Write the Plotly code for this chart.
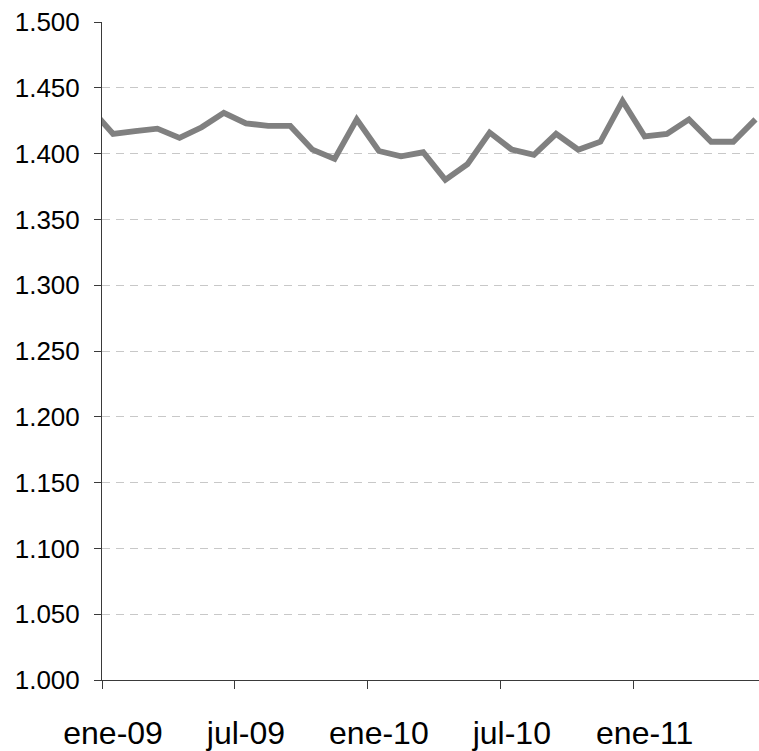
import plotly.graph_objects as go

# Monthly series, dic-08 .. jun-11 (dic-08 sits just left of the visible range)
months = ["dic-08",
          "ene-09", "feb-09", "mar-09", "abr-09", "may-09", "jun-09",
          "jul-09", "ago-09", "sep-09", "oct-09", "nov-09", "dic-09",
          "ene-10", "feb-10", "mar-10", "abr-10", "may-10", "jun-10",
          "jul-10", "ago-10", "sep-10", "oct-10", "nov-10", "dic-10",
          "ene-11", "feb-11", "mar-11", "abr-11", "may-11", "jun-11"]
values = [1.434,
          1.415, 1.417, 1.419, 1.412, 1.420, 1.431,
          1.423, 1.421, 1.421, 1.403, 1.396, 1.426,
          1.402, 1.398, 1.401, 1.380, 1.392, 1.416,
          1.403, 1.399, 1.415, 1.403, 1.409, 1.440,
          1.413, 1.415, 1.426, 1.409, 1.409, 1.426]

# Labelled months (one every six), and the y-axis ticks
tick_labels = ["ene-09", "jul-09", "ene-10", "jul-10", "ene-11"]
y_ticks = [1.000, 1.050, 1.100, 1.150, 1.200, 1.250,
           1.300, 1.350, 1.400, 1.450, 1.500]

# Month slot i spans [i, i+1) with ene-09 as slot 0; points sit mid-slot
x_pos = [i - 1 + 0.5 for i in range(len(months))]
label_pos = [months.index(m) - 1 + 0.5 for m in tick_labels]
boundary_pos = [months.index(m) - 1 for m in tick_labels]

axis_col = "#3a3a3a"

fig = go.Figure(go.Scatter(
    x=x_pos, y=values, mode="lines",
    line=dict(color="#808080", width=5.8),
    hoverinfo="skip",
))

fig.update_layout(
    width=759, height=751,
    margin=dict(l=102, r=0, t=22, b=66),
    paper_bgcolor="white", plot_bgcolor="white",
    showlegend=False,
    font=dict(family="Liberation Sans, Arial, sans-serif", color="black"),
)

fig.update_xaxes(
    range=[0, 29.66],
    tickmode="array", tickvals=label_pos, ticktext=tick_labels,
    ticks="", tickfont=dict(size=32), ticklabelstandoff=25,
    showgrid=False, zeroline=False,
    showline=True, linecolor=axis_col, linewidth=1,
    minor=dict(tickvals=boundary_pos, ticks="outside", ticklen=8,
               tickwidth=1, tickcolor=axis_col, showgrid=False),
)

fig.update_yaxes(
    range=[1.0, 1.5],
    tickmode="array", tickvals=y_ticks, tickformat=".3f",
    ticks="outside", ticklen=7, tickwidth=1, tickcolor=axis_col,
    tickfont=dict(size=26), ticklabelstandoff=9,
    showgrid=True, gridcolor="#c8c8c8", gridwidth=1, griddash="8px,6px",
    zeroline=False,
    showline=True, linecolor=axis_col, linewidth=1,
)

fig.write_html("out.html")
